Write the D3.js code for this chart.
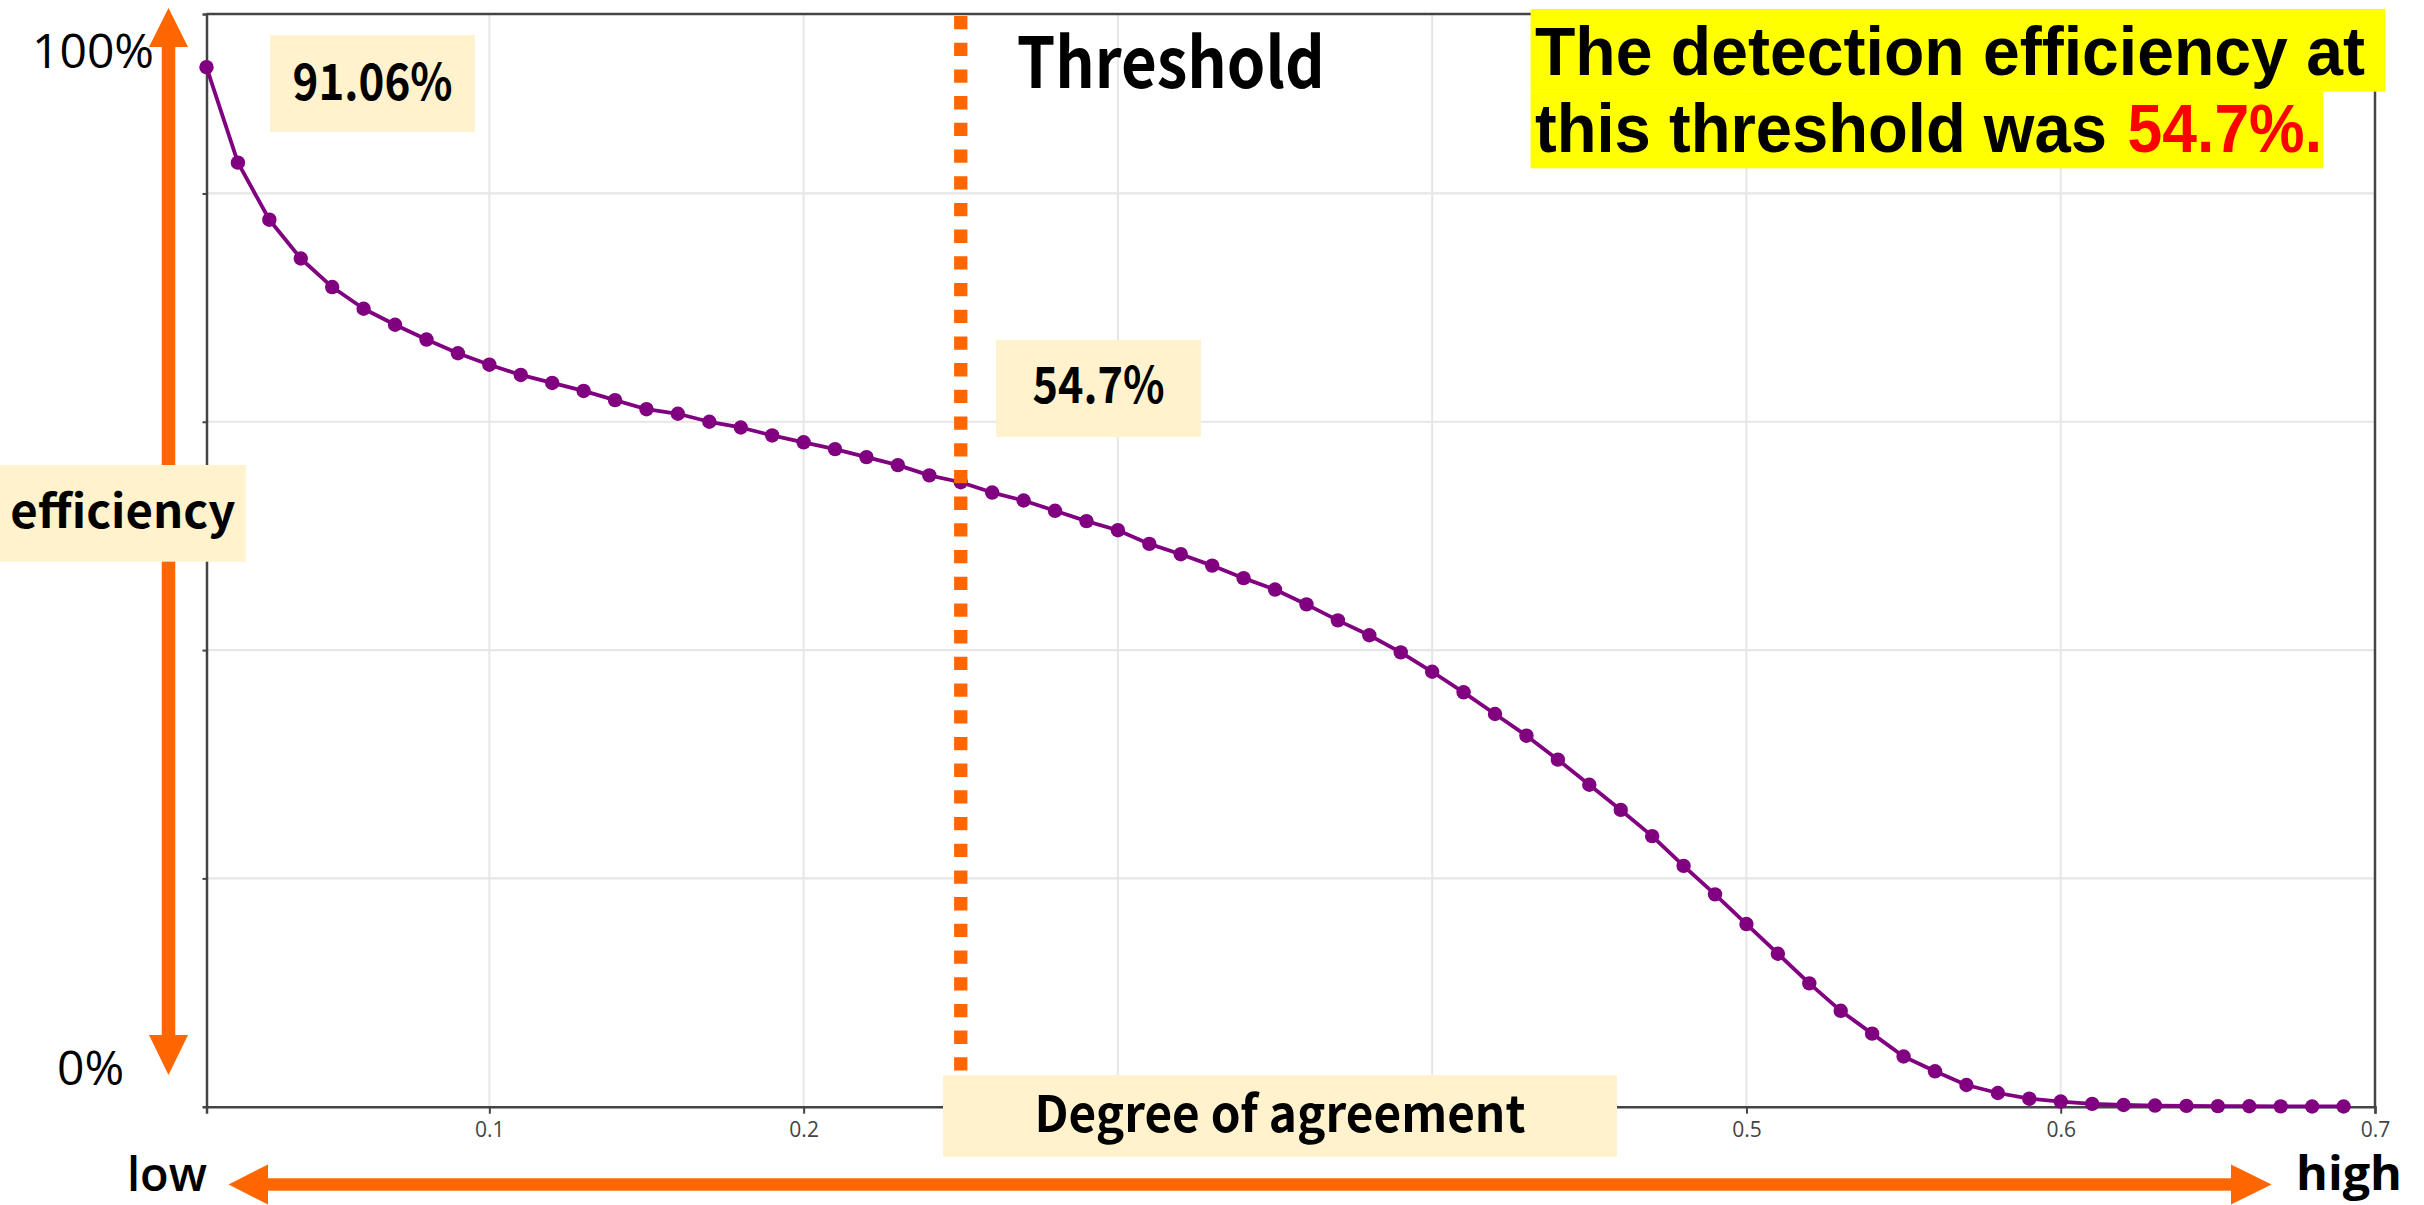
<!DOCTYPE html>
<html>
<head>
<meta charset="utf-8">
<script src="https://cdn.jsdelivr.net/npm/d3@7"></script>
<style>
  html, body { margin: 0; padding: 0; background: #ffffff; }
  svg { display: block; }
</style>
</head>
<body>
<svg id="chart" width="2424" height="1205"></svg>
<script>
// Degree of agreement (threshold) values along the x axis
const agreement = [
  0.01, 0.02, 0.03, 0.04, 0.05, 0.06, 0.07, 0.08, 0.09, 0.10,
  0.11, 0.12, 0.13, 0.14, 0.15, 0.16, 0.17, 0.18, 0.19, 0.20,
  0.21, 0.22, 0.23, 0.24, 0.25, 0.26, 0.27, 0.28, 0.29, 0.30,
  0.31, 0.32, 0.33, 0.34, 0.35, 0.36, 0.37, 0.38, 0.39, 0.40,
  0.41, 0.42, 0.43, 0.44, 0.45, 0.46, 0.47, 0.48, 0.49, 0.50,
  0.51, 0.52, 0.53, 0.54, 0.55, 0.56, 0.57, 0.58, 0.59, 0.60,
  0.61, 0.62, 0.63, 0.64, 0.65, 0.66, 0.67, 0.68, 0.69
];

// Detection efficiency (%) at each threshold
const efficiency = [
  91.06, 82.7, 77.7, 74.3, 71.8, 69.9, 68.5, 67.2, 66.0, 65.0,
  64.1, 63.4, 62.7, 61.9, 61.1, 60.7, 60.0, 59.5, 58.8, 58.2,
  57.6, 56.9, 56.2, 55.3, 54.7, 53.8, 53.1, 52.2, 51.3, 50.5,
  49.3, 48.4, 47.4, 46.3, 45.3, 44.0, 42.6, 41.3, 39.8, 38.1,
  36.3, 34.4, 32.5, 30.4, 28.2, 26.0, 23.7, 21.1, 18.6, 16.0,
  13.4, 10.8, 8.4, 6.4, 4.4, 3.1, 1.9, 1.2, 0.7, 0.45,
  0.25, 0.15, 0.1, 0.07, 0.05, 0.04, 0.03, 0.02, 0.02
];

// Tick positions; the 0.3 and 0.4 labels sit behind the axis-title box
const xTicks = [0.1, 0.2, 0.3, 0.4, 0.5, 0.6, 0.7];
const xTickLabels = ["0.1", "0.2", "", "", "0.5", "0.6", "0.7"];
const yGrid = [20, 40, 60, 80];

// Selected threshold and its efficiency
const threshold = 0.25;
const thresholdEfficiency = 54.7;
const firstEfficiency = 91.06;

function draw() {
  const svg = d3.select("#chart");
  const W = 2424, H = 1205;

  const plot = { left: 206.5, right: 2375, top: 14, bottom: 1106.7 };

  const x = d3.scaleLinear().domain([0.01, 0.7]).range([plot.left, plot.right]);
  const y = d3.scaleLinear().domain([0, 95.72]).range([plot.bottom, plot.top]);

  const orange = "#ff6600";
  const cream = "#fff2cc";
  const purple = "#800080";
  const boldFont = "'Noto Sans CJK JP', 'Noto Sans', sans-serif";
  const noteFont = "'Liberation Sans', Arial, sans-serif";
  const plainFont = "'Open Sans', 'Noto Sans', sans-serif";

  // fit a text to a given run width
  const fit = (sel, w) => sel.attr("textLength", w).attr("lengthAdjust", "spacingAndGlyphs");

  svg.append("rect").attr("width", W).attr("height", H).attr("fill", "#fff");

  // grid
  const grid = svg.append("g");
  grid.selectAll("line.vx").data(xTicks.slice(0, -1)).join("line")
    .attr("x1", d => x(d)).attr("x2", d => x(d))
    .attr("y1", plot.top).attr("y2", plot.bottom)
    .attr("stroke", "#e6e6e6").attr("stroke-width", 2);
  grid.selectAll("line.hy").data(yGrid).join("line")
    .attr("x1", plot.left).attr("x2", plot.right)
    .attr("y1", d => y(d)).attr("y2", d => y(d))
    .attr("stroke", "#e6e6e6").attr("stroke-width", 2.2);

  // axes
  const xAxis = d3.axisBottom(x).tickValues(xTicks)
    .tickFormat((d, i) => xTickLabels[i]).tickSize(7).tickPadding(8);
  const gx = svg.append("g").attr("transform", `translate(0,${plot.bottom})`).call(xAxis);
  gx.select(".domain").attr("stroke", "#444").attr("stroke-width", 2.5);
  gx.selectAll(".tick line").attr("stroke", "#444").attr("stroke-width", 2);
  gx.selectAll(".tick text").attr("fill", "#444")
    .style("font-family", plainFont).style("font-size", "21px");

  const yAxis = d3.axisLeft(y).tickValues(yGrid).tickFormat("").tickSize(4);
  const gy = svg.append("g").attr("transform", `translate(${plot.left},0)`).call(yAxis);
  gy.select(".domain").attr("stroke", "#444").attr("stroke-width", 2.5);
  gy.selectAll(".tick line").attr("stroke", "#444").attr("stroke-width", 2);

  // top and right frame
  svg.append("path")
    .attr("d", `M${plot.left},${plot.top}H${plot.right}V${plot.bottom}`)
    .attr("fill", "none").attr("stroke", "#444").attr("stroke-width", 2.5);

  // efficiency curve
  const pts = agreement.map((a, i) => [a, efficiency[i]]);
  const line = d3.line().x(d => x(d[0])).y(d => y(d[1]));
  svg.append("path").datum(pts).attr("d", line)
    .attr("fill", "none").attr("stroke", purple).attr("stroke-width", 3.8)
    .attr("stroke-linejoin", "round");
  svg.append("g").selectAll("circle").data(pts).join("circle")
    .attr("cx", d => x(d[0])).attr("cy", d => y(d[1])).attr("r", 7.2)
    .attr("fill", purple);

  // threshold marker
  svg.append("line")
    .attr("x1", x(threshold)).attr("x2", x(threshold))
    .attr("y1", plot.top + 2).attr("y2", plot.bottom)
    .attr("stroke", orange).attr("stroke-width", 13.3)
    .attr("stroke-dasharray", "13.3,13.4");

  // labelled boxes
  function box(bx, by, bw, bh, text, size, baseline, runWidth) {
    svg.append("rect").attr("x", bx).attr("y", by).attr("width", bw).attr("height", bh)
      .attr("fill", cream);
    const t = svg.append("text").attr("x", bx + bw / 2).attr("y", baseline)
      .attr("text-anchor", "middle")
      .style("font-family", boldFont).style("font-weight", 700)
      .style("font-size", size + "px").attr("fill", "#000").text(text);
    fit(t, runWidth);
  }

  // vertical double arrow (efficiency direction)
  const ax = 168.5, shaftV = 13.5, headV = 19.5;
  svg.append("rect").attr("x", ax - shaftV / 2).attr("y", 45).attr("width", shaftV)
    .attr("height", 1037 - 45).attr("fill", orange);
  svg.append("path").attr("d", `M${ax},8L${ax + headV},47L${ax - headV},47Z`).attr("fill", orange);
  svg.append("path").attr("d", `M${ax},1075L${ax + headV},1035L${ax - headV},1035Z`).attr("fill", orange);

  // horizontal double arrow (agreement direction)
  const ay = 1184.5, shaftH = 12.4, headH = 20;
  svg.append("rect").attr("x", 266).attr("y", ay - shaftH / 2).attr("width", 2233 - 266)
    .attr("height", shaftH).attr("fill", orange);
  svg.append("path").attr("d", `M228.6,${ay}L268,${ay - headH}L268,${ay + headH}Z`).attr("fill", orange);
  svg.append("path").attr("d", `M2271.6,${ay}L2231,${ay - headH}L2231,${ay + headH}Z`).attr("fill", orange);

  box(0, 465, 245.7, 96.7, "efficiency", 46, 528, 225);
  box(270, 35, 205, 97, d3.format(".2f")(firstEfficiency) + "%", 50, 99.5, 160);
  box(996, 340, 205, 97, thresholdEfficiency + "%", 50, 403, 132);
  box(943, 1075, 674, 82, "Degree of agreement", 50, 1132, 491);

  // threshold title
  fit(svg.append("text").attr("x", 1016.7).attr("y", 88.3)
    .style("font-family", boldFont).style("font-weight", 700).style("font-size", "70px")
    .attr("fill", "#000").text("Threshold"), 308);

  // range labels
  svg.append("text").attr("x", 32).attr("y", 68)
    .style("font-family", plainFont).style("font-size", "48px").attr("fill", "#000").text("100%");
  svg.append("text").attr("x", 57).attr("y", 1085)
    .style("font-family", plainFont).style("font-size", "48px").attr("fill", "#000").text("0%");
  fit(svg.append("text").attr("x", 127).attr("y", 1191)
    .style("font-family", plainFont).style("font-weight", 600).style("font-size", "47px")
    .attr("fill", "#000").text("low"), 80);
  fit(svg.append("text").attr("x", 2296).attr("y", 1190)
    .style("font-family", plainFont).style("font-weight", 700).style("font-size", "47px")
    .attr("fill", "#000").text("high"), 106);

  // highlighted summary: yellow band behind each line
  const hx = 1535, hSize = 68.5;
  const bands = [
    { top: 9, bottom: 91.7, width: 854.4 },
    { top: 91.7, bottom: 168.3, width: 792.4 }
  ];
  bands.forEach(b => svg.append("rect").attr("fill", "#ffff00")
    .attr("x", hx - 4.4).attr("y", b.top).attr("width", b.width).attr("height", b.bottom - b.top));

  const runs = [
    { x: hx, y: 75, text: "The detection efficiency at", fill: "#000", w: 830 },
    { x: hx, y: 151.7, text: "this threshold was", fill: "#000", w: 572 },
    { x: 2127.6, y: 151.7, text: thresholdEfficiency + "%.", fill: "#ff0000", w: 194.4 }
  ];
  runs.forEach(r => fit(svg.append("text").attr("x", r.x).attr("y", r.y)
    .style("font-family", noteFont).style("font-weight", 700)
    .style("font-size", hSize + "px").attr("fill", r.fill).text(r.text), r.w));
}

if (document.fonts && document.fonts.ready) {
  document.fonts.ready.then(draw);
} else {
  draw();
}
</script>
</body>
</html>
